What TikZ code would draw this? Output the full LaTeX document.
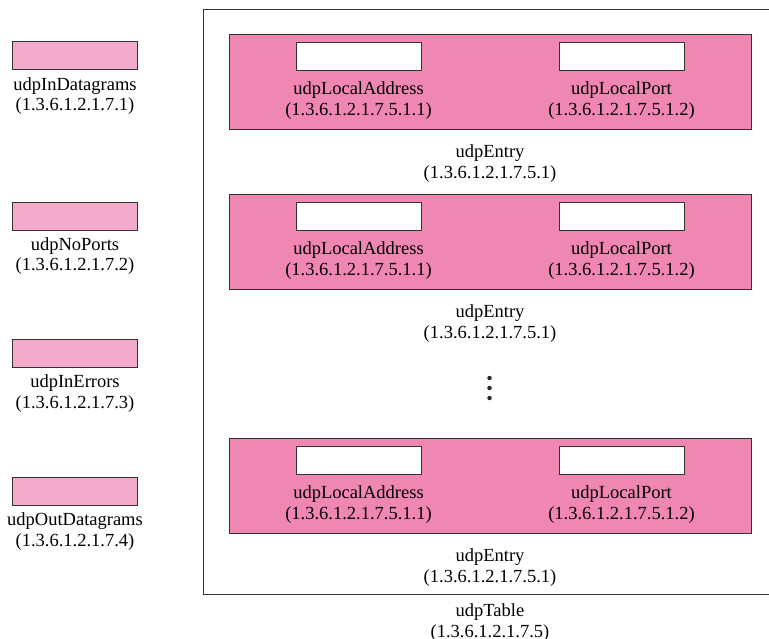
\documentclass[tikz,border=0pt]{standalone}
\usepackage{fontspec}
\setmainfont{Liberation Serif}
\definecolor{entrypink}{RGB}{240,134,178}
\definecolor{leafpink}{RGB}{244,170,204}
\definecolor{edge}{RGB}{50,50,50}
\begin{document}
\begin{tikzpicture}[x=1pt,y=-1pt,
  lbl/.style={align=center,inner sep=0pt,font=\fontsize{18.5}{20.5}\selectfont},
  leafbox/.style={draw=edge,line width=1pt,fill=leafpink,minimum width=125pt,minimum height=28pt,inner sep=0pt},
  entrybox/.style={draw=edge,line width=1pt,fill=entrypink,minimum width=522pt,minimum height=95pt,inner sep=0pt},
  cellbox/.style={draw=edge,line width=1pt,fill=white,minimum width=125pt,minimum height=28pt,inner sep=0pt},
  dot/.style={circle,fill=black!85,inner sep=0pt,minimum size=4.5pt}]
\useasboundingbox (0,0) rectangle (769,639);
% table frame
\draw[edge,line width=1pt] (770,10) -- (203,10) -- (203,594) -- (770,594);
% left scalar objects
\node[leafbox] (b1) at (74.5,56) {};
\node[lbl] (t1) at (75,96) {udpInDatagrams\\(1.3.6.1.2.1.7.1)};
\node[leafbox] (b2) at (74.5,216.5) {};
\node[lbl] (t2) at (75,256) {udpNoPorts\\(1.3.6.1.2.1.7.2)};
\node[leafbox] (b3) at (74.5,353.5) {};
\node[lbl] (t3) at (75,393.5) {udpInErrors\\(1.3.6.1.2.1.7.3)};
\node[leafbox] (b4) at (74.5,491) {};
\node[lbl] (t4) at (75,531.5) {udpOutDatagrams\\(1.3.6.1.2.1.7.4)};
% entries
\foreach \n/\y in {1/34,2/194,3/438}{
  \node[entrybox,anchor=north] (e\n) at (490,\y) {};
  \node[cellbox,anchor=north] (a\n) at (358.5,\y+8) {};
  \node[cellbox,anchor=north] (p\n) at (621.5,\y+8) {};
  \node[lbl] (at\n) at (358.5,\y+66.5) {udpLocalAddress\\(1.3.6.1.2.1.7.5.1.1)};
  \node[lbl] (pt\n) at (621.5,\y+66.5) {udpLocalPort\\(1.3.6.1.2.1.7.5.1.2)};
  \node[lbl] (et\n) at (490,\y+129.5) {udpEntry\\(1.3.6.1.2.1.7.5.1)};
}
% ellipsis
\node[dot] (d1) at (489.5,378) {};
\node[dot] (d2) at (489.5,388) {};
\node[dot] (d3) at (489.5,398) {};
% table label
\node[lbl] (tt) at (490,622.5) {udpTable\\(1.3.6.1.2.1.7.5)};
\end{tikzpicture}
\end{document}
